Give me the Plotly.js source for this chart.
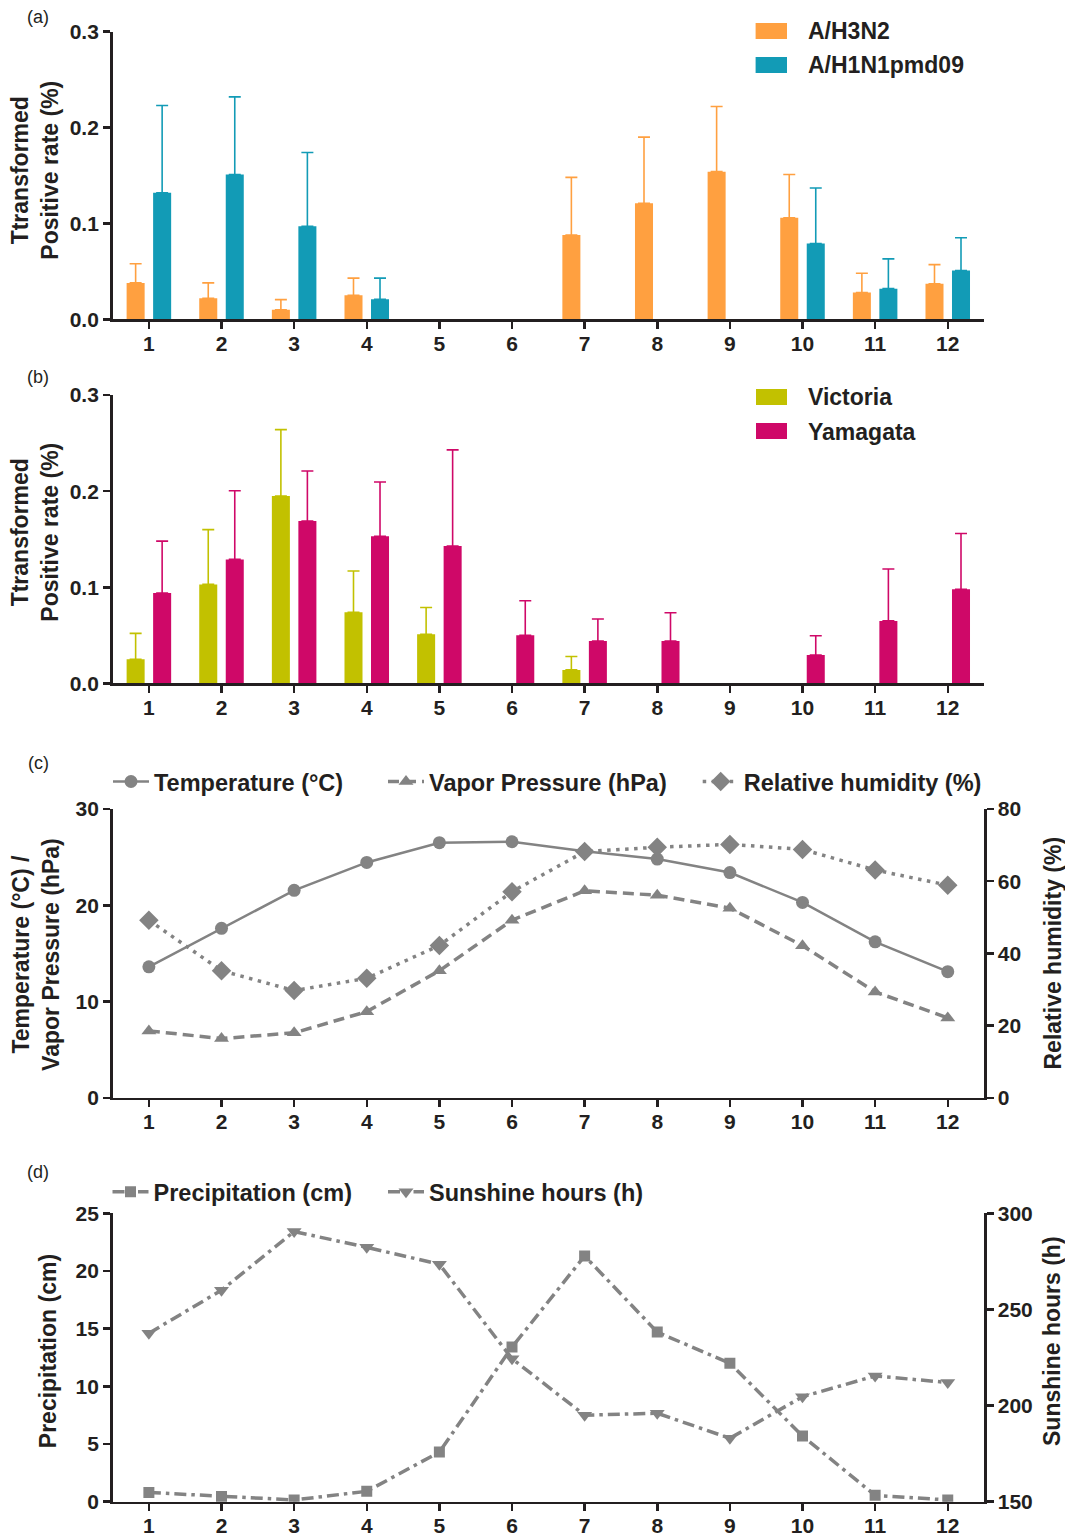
<!DOCTYPE html>
<html><head><meta charset="utf-8">
<script src="https://cdn.plot.ly/plotly-3.0.1.min.js"></script>
<style>body{margin:0;background:#fff;} #chart{width:1065px;height:1536px;}</style>
</head><body><div id="chart"></div>
<script>
// ---- data ----
const months = [1,2,3,4,5,6,7,8,9,10,11,12];
const monthLabels = ['1','2','3','4','5','6','7','8','9','10','11','12'];

const h3n2      = [0.038, 0.022, 0.010, 0.025, 0, 0, 0.088, 0.121, 0.154, 0.106, 0.028, 0.037];
const h3n2Err   = [0.020, 0.016, 0.0105, 0.018, 0, 0, 0.060, 0.069, 0.068, 0.045, 0.020, 0.020];
const h1n1      = [0.132, 0.151, 0.097, 0.021, 0, 0, 0, 0, 0, 0.079, 0.032, 0.051];
const h1n1Err   = [0.091, 0.081, 0.077, 0.022, 0, 0, 0, 0, 0, 0.058, 0.031, 0.034];

const victoria    = [0.025, 0.103, 0.195, 0.074, 0.051, 0, 0.014, 0, 0, 0, 0, 0];
const victoriaErr = [0.027, 0.057, 0.069, 0.043, 0.028, 0, 0.014, 0, 0, 0, 0, 0];
const yamagata    = [0.094, 0.129, 0.169, 0.153, 0.143, 0.050, 0.044, 0.044, 0, 0.0295, 0.065, 0.098];
const yamagataErr = [0.054, 0.0715, 0.052, 0.0565, 0.100, 0.036, 0.023, 0.0295, 0, 0.020, 0.054, 0.058];

const temperature   = [13.6, 17.6, 21.55, 24.45, 26.5, 26.6, 25.6, 24.8, 23.4, 20.3, 16.2, 13.1];
const vaporPressure = [6.95, 6.15, 6.75, 8.95, 13.2, 18.45, 21.5, 21.05, 19.7, 15.8, 11.0, 8.3];
const humidity      = [49.2, 35.2, 29.7, 33.1, 42.2, 57.1, 68.2, 69.4, 70.2, 68.8, 63.1, 58.9];

const precipitation = [0.8, 0.45, 0.15, 0.9, 4.3, 13.4, 21.3, 14.7, 12.0, 5.7, 0.55, 0.15];
const sunshine      = [237.6, 260, 290.5, 282.3, 273.5, 224.4, 195, 196, 183, 204.6, 215.4, 212];

// ---- styles ----
const F = 'Liberation Sans, Arial, sans-serif';
const INK = '#231f20';
const GRAY = '#838383';
const C_H3N2 = '#FFA040', C_H1N1 = '#129BB6', C_VIC = '#C2C100', C_YAM = '#CF0868';
const XDOM = [0.1057, 0.924];

function errArr(e){ return e.map(v => v > 0 ? v : NaN); }
function bar(name, y, e, color, xa, yaName){
  return {type:'bar', name, x:months, y:y.map(v => v > 0 ? v : null), xaxis:xa, yaxis:yaName,
    marker:{color, line:{width:0}}, showlegend:false,
    error_y:{type:'data', symmetric:false, array:errArr(e), arrayminus:e.map(()=>0), color, thickness:1.6, width:6}};
}
function xaxis(anchor){
  return {domain:XDOM, anchor, range:[0.5,12.5], tickmode:'array', tickvals:months, ticktext:monthLabels,
    showline:true, linewidth:2.5, linecolor:INK, ticks:'outside', ticklen:7, tickwidth:2.5, tickcolor:INK,
    ticklabelstandoff:-3,
    tickfont:{family:F, size:21, color:INK, weight:'bold'}, showgrid:false, zeroline:false, fixedrange:true};
}
function yaxis(anchor, dom, range, dtick, fmt, extra){
  return Object.assign({domain:dom, anchor, range, dtick, tick0:range[0], tickformat:fmt,
    showline:true, linewidth:2.5, linecolor:INK, ticks:'outside', ticklen:7, tickwidth:2.5, tickcolor:INK,
    tickfont:{family:F, size:21, color:INK, weight:'bold'}, showgrid:false, zeroline:false, fixedrange:true}, extra||{});
}

const traces = [
  bar('A/H3N2', h3n2, h3n2Err, C_H3N2, 'x', 'y'),
  bar('A/H1N1pmd09', h1n1, h1n1Err, C_H1N1, 'x', 'y'),
  bar('Victoria', victoria, victoriaErr, C_VIC, 'x2', 'y2'),
  bar('Yamagata', yamagata, yamagataErr, C_YAM, 'x2', 'y2'),
  {type:'scatter', mode:'lines+markers', name:'Temperature (°C)', x:months, y:temperature, xaxis:'x3', yaxis:'y3',
   line:{color:GRAY, width:2.5}, marker:{symbol:'circle', size:13, color:GRAY}, legend:'legend3'},
  {type:'scatter', mode:'lines+markers', name:'Vapor Pressure (hPa)', x:months, y:vaporPressure, xaxis:'x3', yaxis:'y3',
   line:{color:GRAY, width:3.5, dash:'11px,6px'}, marker:{symbol:'triangle-up', size:13, color:GRAY}, legend:'legend4'},
  {type:'scatter', mode:'lines+markers', name:'Relative humidity (%)', x:months, y:humidity, xaxis:'x3', yaxis:'y5',
   line:{color:GRAY, width:3.5, dash:'3.5px,5.5px'}, marker:{symbol:'diamond', size:15, color:GRAY}, legend:'legend5'},
  {type:'scatter', mode:'lines+markers', name:'Precipitation (cm)', x:months, y:precipitation, xaxis:'x4', yaxis:'y4',
   line:{color:GRAY, width:3.5, dash:'12px,5px,3.5px,5px'}, marker:{symbol:'square', size:11, color:GRAY}, legend:'legend6'},
  {type:'scatter', mode:'lines+markers', name:'Sunshine hours (h)', x:months, y:sunshine, xaxis:'x4', yaxis:'y6',
   line:{color:GRAY, width:3.5, dash:'12px,5px,3.5px,5px'}, marker:{symbol:'triangle-down', size:13, color:GRAY}, legend:'legend7'}
];

const H = 1536, W = 1065;
const px = v => v / W, py = v => 1 - v / H;
const legFont = {family:F, size:23.5, color:INK, weight:'bold'};
function leg(xPix, yPix){ return {x:px(xPix), y:py(yPix), xanchor:'left', yanchor:'middle', orientation:'h',
  font:legFont, bgcolor:'rgba(0,0,0,0)', borderwidth:0, itemwidth:36}; }

function ann(text, xPix, yPix, opts){
  return Object.assign({text, xref:'paper', yref:'paper', x:px(xPix), y:py(yPix), showarrow:false,
    xanchor:'center', yanchor:'middle', font:{family:F, size:23, color:INK, weight:'bold'}}, opts||{});
}
const panelFont = {family:F, size:18, color:INK};
const annotations = [
  ann('(a)', 38, 17, {font:panelFont}),
  ann('(b)', 38, 377, {font:panelFont}),
  ann('(c)', 38, 763, {font:panelFont}),
  ann('(d)', 38, 1172, {font:panelFont}),
  ann('Ttransformed<br>Positive rate (%)', 34.7, 170, {textangle:-90}),
  ann('Ttransformed<br>Positive rate (%)', 34.7, 532, {textangle:-90}),
  ann('Temperature (°C) /<br>Vapor Pressure (hPa)', 35.9, 954, {textangle:-90}),
  ann('Relative humidity (%)', 1052, 953.5, {textangle:-90}),
  ann('Precipitation (cm)', 48.2, 1351, {textangle:-90}),
  ann('Sunshine hours (h)', 1052, 1341, {textangle:-90}),
  ann('A/H3N2', 805.6, 31, {xanchor:'left'}),
  ann('A/H1N1pmd09', 805.6, 65, {xanchor:'left'}),
  ann('Victoria', 805.6, 396.7, {xanchor:'left'}),
  ann('Yamagata', 805.6, 431.7, {xanchor:'left'})
];
function sw(color, x0, x1, y0, y1){
  return {type:'rect', xref:'paper', yref:'paper', x0:px(x0), x1:px(x1), y0:py(y1), y1:py(y0), fillcolor:color, line:{width:0}};
}
const shapes = [
  sw(C_H3N2, 755.6, 787, 23, 39),
  sw(C_H1N1, 755.6, 787, 57, 73),
  sw(C_VIC, 756, 787, 389, 405),
  sw(C_YAM, 756, 787, 423, 439)
];

const layout = {
  width:W, height:H, margin:{l:0, r:0, t:0, b:0}, paper_bgcolor:'#fff', plot_bgcolor:'#fff',
  barmode:'group', bargap:0.27, bargroupgap:0.32, showlegend:true,
  xaxis: xaxis('y'), xaxis2: xaxis('y2'), xaxis3: xaxis('y3'), xaxis4: xaxis('y4'),
  yaxis: yaxis('x', [0.7921, 0.9794], [0, 0.3], 0.1, '.1f'),
  yaxis2: yaxis('x2', [0.5551, 0.7428], [0, 0.3], 0.1, '.1f'),
  yaxis3: yaxis('x3', [0.2853, 0.4733], [0, 30], 10, 'd'),
  yaxis4: yaxis('x4', [0.02233, 0.2101], [0, 25], 5, 'd'),
  yaxis5: yaxis('x3', [0.2853, 0.4733], [0, 80], 20, 'd', {overlaying:'y3', side:'right'}),
  yaxis6: yaxis('x4', [0.02233, 0.2101], [150, 300], 50, 'd', {overlaying:'y4', side:'right'}),
  legend3: leg(108, 781.7), legend4: leg(383, 781.7), legend5: leg(697.7, 781.7),
  legend6: leg(107.5, 1192), legend7: leg(383, 1192),
  annotations, shapes
};

Plotly.newPlot('chart', traces, layout, {staticPlot:true, displayModeBar:false});
</script></body></html>
